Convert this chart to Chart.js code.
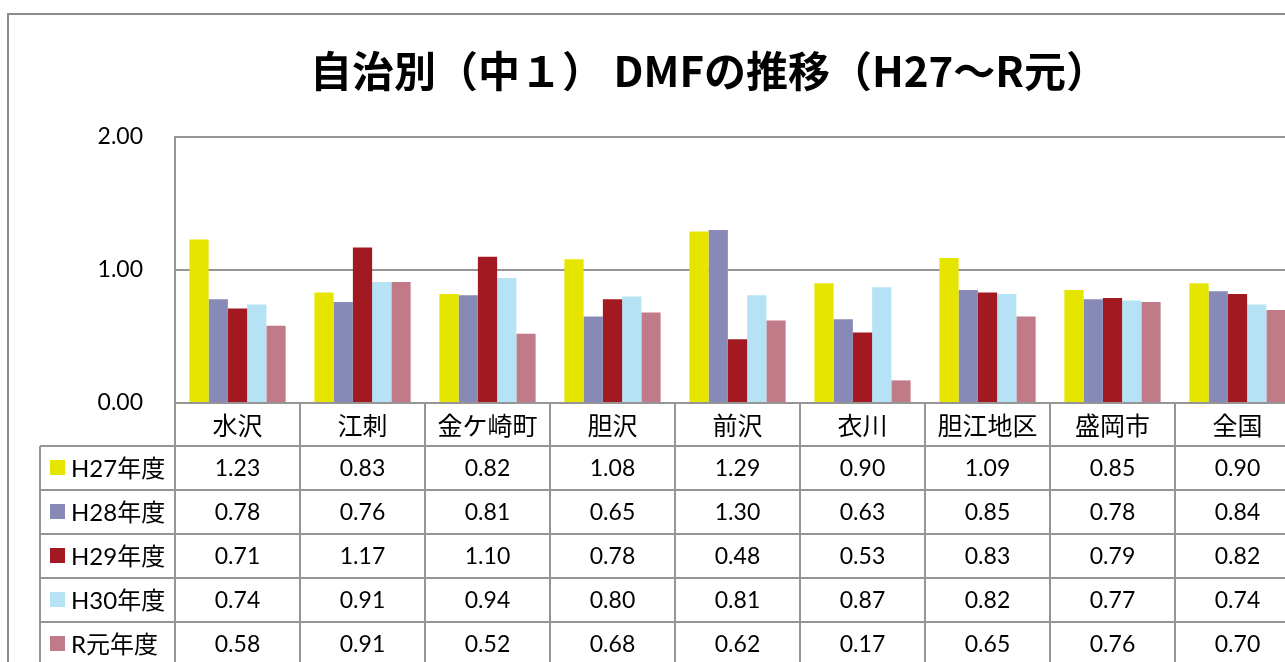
<!DOCTYPE html>
<html>
<head>
<meta charset="utf-8">
<script src="https://cdn.jsdelivr.net/npm/chart.js@4.4.0/dist/chart.umd.min.js"></script>
<style>
  html, body { margin: 0; padding: 0; background: #fff; overflow: hidden; }
  #wrap { position: absolute; left: 0; top: 0; width: 1418px; height: 662px; }
</style>
</head>
<body>
<div id="wrap"><canvas id="dmfChart" width="1418" height="662"></canvas></div>
<script>
// data
const categories = ['水沢', '江刺', '金ケ崎町', '胆沢', '前沢', '衣川', '胆江地区', '盛岡市', '全国'];
const seriesNames = ['H27年度', 'H28年度', 'H29年度', 'H30年度', 'R元年度'];
const h27 = [1.23, 0.83, 0.82, 1.08, 1.29, 0.90, 1.09, 0.85, 0.90];
const h28 = [0.78, 0.76, 0.81, 0.65, 1.30, 0.63, 0.85, 0.78, 0.84];
const h29 = [0.71, 1.17, 1.10, 0.78, 0.48, 0.53, 0.83, 0.79, 0.82];
const h30 = [0.74, 0.91, 0.94, 0.80, 0.81, 0.87, 0.82, 0.77, 0.74];
const r1 = [0.58, 0.91, 0.52, 0.68, 0.62, 0.17, 0.65, 0.76, 0.70];
const yTicks = [0, 1, 2];
const title = '自治別（中１） DMFの推移（H27〜R元）';

const colors = ['#e5e500', '#878ab6', '#a31922', '#b5e3f5', '#c07a88'];
const allSeries = [h27, h28, h29, h30, r1];
const lineGray = '#959595';
const numFont = "Lato, 'Noto Sans CJK JP', sans-serif";

// chart frame, title and data table under the plot
const tablePlugin = {
    id: 'dataTable',
    beforeDraw(chart) {
        const c = chart.ctx;
        c.save();
        c.strokeStyle = '#8c8c8c';
        c.lineWidth = 2;
        c.beginPath();
        c.moveTo(8, chart.height);
        c.lineTo(8, 14);
        c.lineTo(chart.width, 14);
        c.stroke();
        c.restore();
    },
    afterDraw(chart) {
        const c = chart.ctx;
        const xs = chart.scales.x;
        const area = chart.chartArea;
        const half = (xs.getPixelForValue(1) - xs.getPixelForValue(0)) / 2;
        const rowTops = [area.bottom, area.bottom + 43];
        for (let i = 1; i <= seriesNames.length; i++) rowTops.push(rowTops[1] + i * 44);
        const legendLeft = 40;

        c.save();
        // title
        c.fillStyle = '#000';
        c.font = "bold 42px 'Noto Sans CJK JP', sans-serif";
        c.textAlign = 'center';
        c.textBaseline = 'middle';
        c.fillText(title, 709, 71);

        // grid lines of the table
        c.strokeStyle = lineGray;
        c.lineWidth = 2;
        c.beginPath();
        rowTops.forEach((y, r) => {
            const x0 = r === 0 ? area.left : legendLeft;
            c.moveTo(x0, y);
            c.lineTo(chart.width, y);
        });
        c.moveTo(legendLeft, rowTops[1]);
        c.lineTo(legendLeft, chart.height);
        categories.forEach((cat, i) => {
            const xb = xs.getPixelForValue(i) - half;
            c.moveTo(xb, area.bottom);
            c.lineTo(xb, chart.height);
        });
        c.moveTo(xs.getPixelForValue(categories.length - 1) + half, area.bottom);
        c.lineTo(xs.getPixelForValue(categories.length - 1) + half, chart.height);
        c.stroke();

        // category row
        c.fillStyle = '#000';
        c.textAlign = 'center';
        c.textBaseline = 'middle';
        c.font = "25px 'Noto Sans CJK JP', sans-serif";
        categories.forEach((cat, i) => {
            c.fillText(cat, xs.getPixelForValue(i), (rowTops[0] + rowTops[1]) / 2 + 1);
        });

        // series rows
        seriesNames.forEach((name, s) => {
            const yc = (rowTops[s + 1] + rowTops[s + 2]) / 2;
            c.fillStyle = colors[s];
            c.fillRect(50, yc - 8, 15, 15);
            c.fillStyle = '#000';
            c.textAlign = 'left';
            c.font = "24px " + numFont;
            c.fillText(name, 71, yc + 1);
            c.textAlign = 'center';
            c.font = "23px " + numFont;
            allSeries[s].forEach((v, i) => {
                c.fillText(v.toFixed(2), xs.getPixelForValue(i), yc + 1);
            });
        });
        c.restore();
    }
};

new Chart(document.getElementById('dmfChart').getContext('2d'), {
    type: 'bar',
    data: {
        labels: categories,
        datasets: seriesNames.map((name, s) => ({
            label: name,
            data: allSeries[s],
            backgroundColor: colors[s],
            borderWidth: 0,
            categoryPercentage: 0.77,
            barPercentage: 1.0
        }))
    },
    options: {
        responsive: false,
        animation: false,
        layout: { padding: { top: 137, bottom: 259, left: 0, right: 118 } },
        plugins: {
            legend: { display: false },
            title: { display: false },
            tooltip: { enabled: false }
        },
        scales: {
            x: {
                grid: { display: false },
                border: { display: false },
                ticks: { display: false },
                afterFit(scale) { scale.height = 0; }
            },
            y: {
                min: yTicks[0],
                max: yTicks[yTicks.length - 1],
                afterBuildTicks(scale) { scale.ticks = yTicks.map(v => ({ value: v })); },
                ticks: {
                    padding: 32,
                    color: '#000',
                    font: { family: numFont, size: 23 },
                    callback: v => Number(v).toFixed(2)
                },
                grid: { color: lineGray, lineWidth: 2, drawTicks: false },
                border: { display: true, color: lineGray, width: 2 },
                afterFit(scale) { scale.width = 175; }
            }
        }
    },
    plugins: [tablePlugin]
});
</script>
</body>
</html>
